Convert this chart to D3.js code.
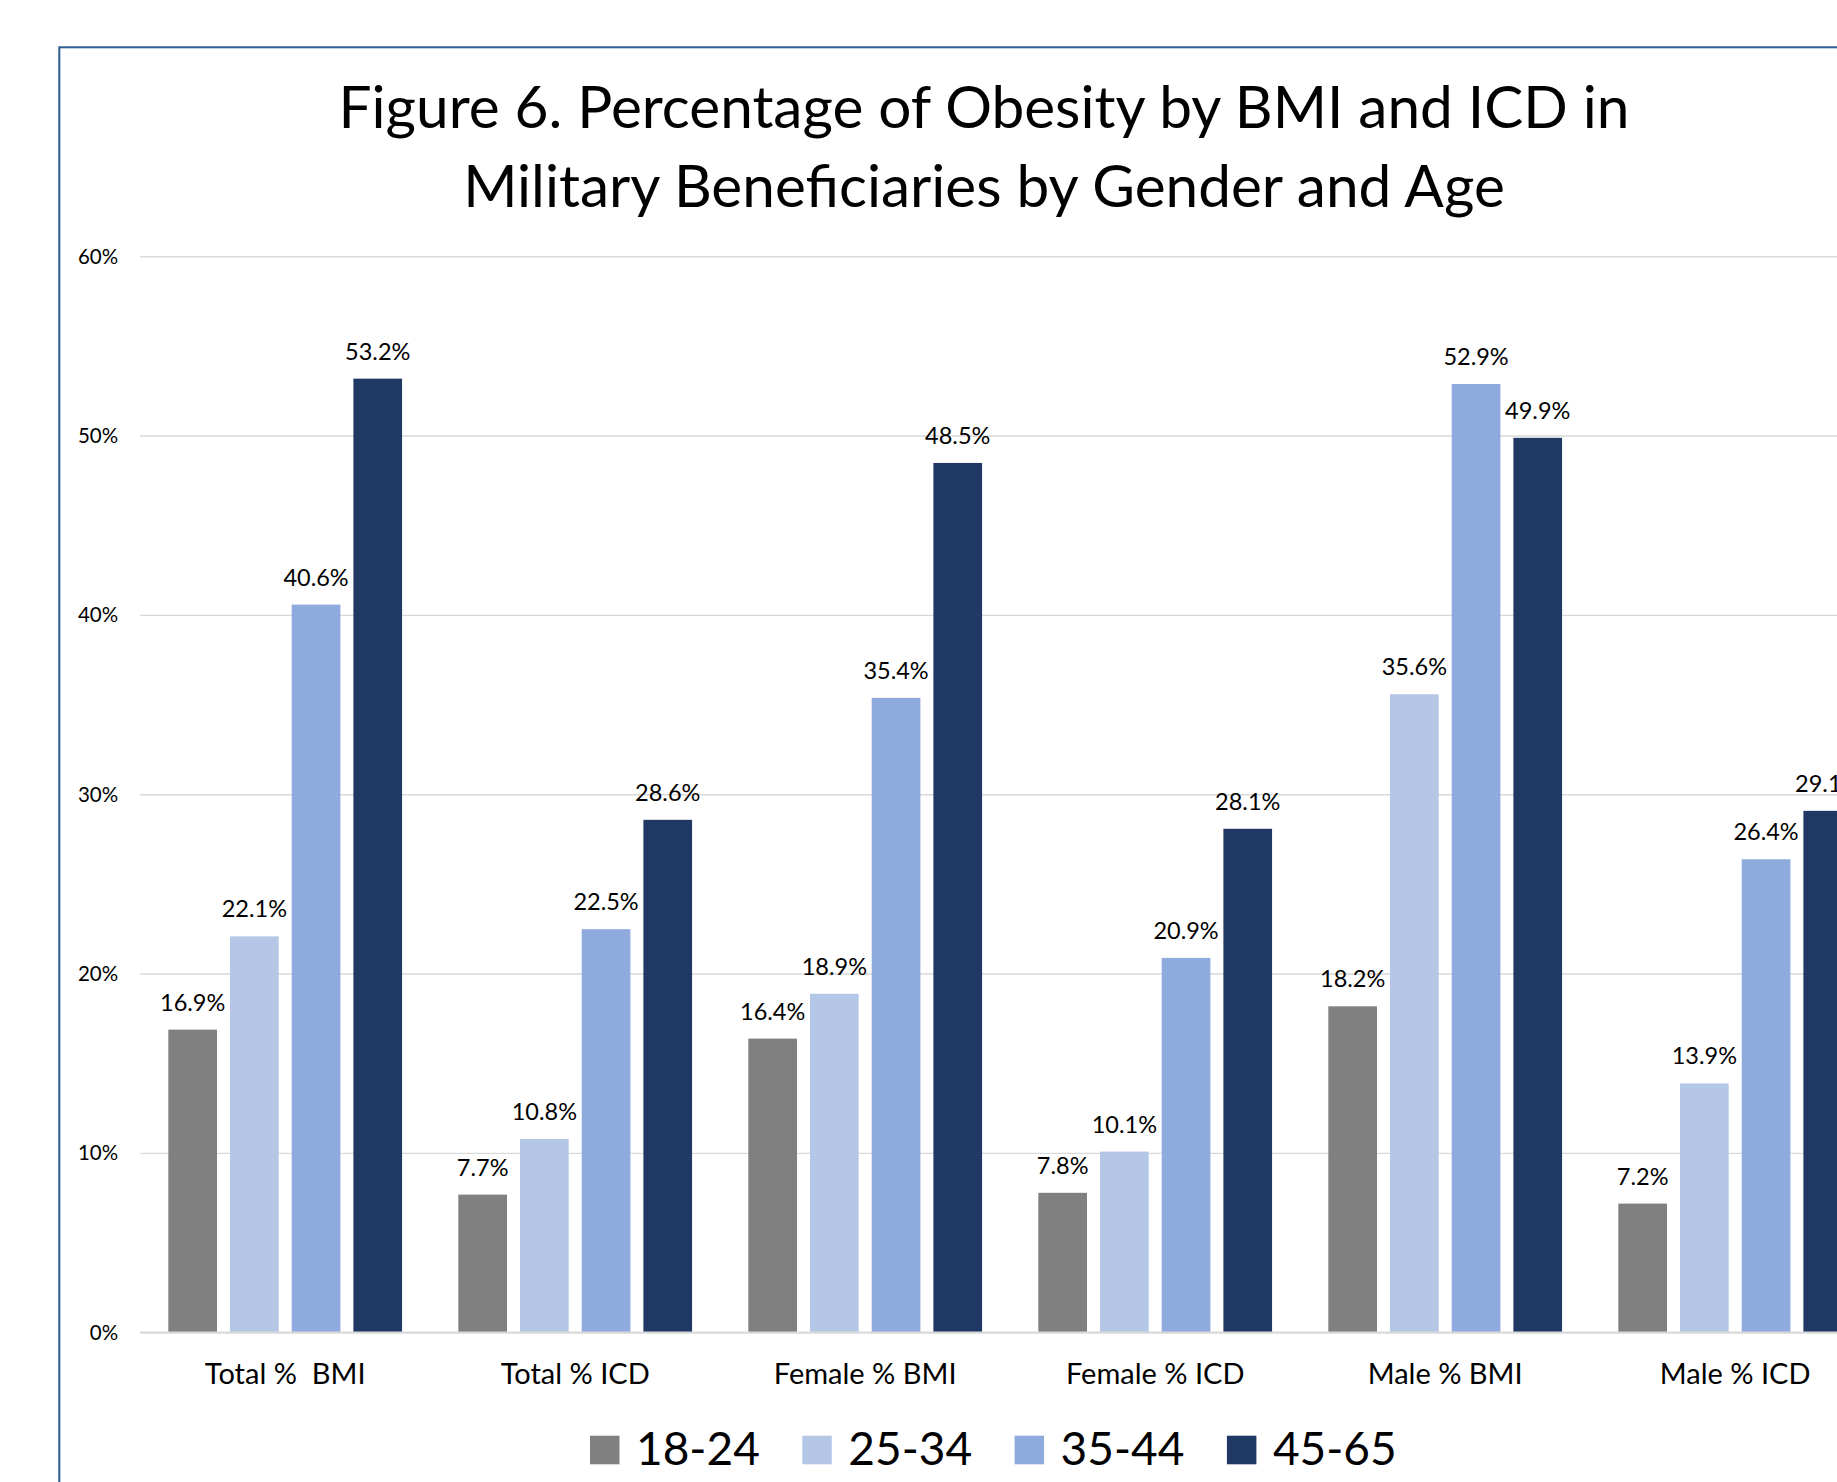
<!DOCTYPE html>
<html>
<head>
<meta charset="utf-8">
<script src="https://cdn.jsdelivr.net/npm/d3@7"></script>
<style>
  body { margin: 0; background: #fff; }
  svg { display: block; font-family: Lato, "Open Sans", sans-serif; }
</style>
</head>
<body>
<svg id="chart" width="1837" height="1482"></svg>
<script>
// Chart data
const titleLines = ["Figure 6. Percentage of Obesity by BMI and ICD in", "Military Beneficiaries by Gender and Age"];
const categories = ["Total %  BMI", "Total % ICD", "Female % BMI", "Female % ICD", "Male % BMI", "Male % ICD"];
const ageGroups = ["18-24", "25-34", "35-44", "45-65"];
const values1824 = [16.9, 7.7, 16.4, 7.8, 18.2, 7.2];
const values2534 = [22.1, 10.8, 18.9, 10.1, 35.6, 13.9];
const values3544 = [40.6, 22.5, 35.4, 20.9, 52.9, 26.4];
const values4565 = [53.2, 28.6, 48.5, 28.1, 49.9, 29.1];
const yTicks = [0, 10, 20, 30, 40, 50, 60];
const colors = ["#808080", "#b4c7e7", "#8faadc", "#203864"];

const seriesValues = [values1824, values2534, values3544, values4565];

const svg = d3.select("#chart");

// Outer chart border (runs off the right and bottom of the picture)
svg.append("rect")
  .attr("x", 59.3)
  .attr("y", 47.3)
  .attr("width", 1900)
  .attr("height", 1600)
  .attr("fill", "none")
  .attr("stroke", "#2f5b91")
  .attr("stroke-width", 2);

// Title
svg.append("g")
  .selectAll("text")
  .data(titleLines)
  .enter()
  .append("text")
  .attr("x", 984)
  .attr("y", (d, i) => 128 + i * 79)
  .attr("text-anchor", "middle")
  .style("font-size", "58.5px")
  .attr("fill", "#000")
  .text(d => d);

// Scales
const plotLeft = 140.2;
const x0 = d3.scaleBand()
  .domain(categories)
  .range([plotLeft, plotLeft + 290 * categories.length])
  .paddingInner(0.194)
  .paddingOuter(0.097);

const x1 = d3.scaleBand()
  .domain(ageGroups)
  .range([0, x0.bandwidth()])
  .paddingInner(0.211);

const y = d3.scaleLinear()
  .domain([0, 60])
  .range([1332.7, 256.7]);

// Gridlines
svg.append("g")
  .selectAll("line")
  .data(yTicks.filter(d => d > 0))
  .enter()
  .append("line")
  .attr("x1", x0.range()[0])
  .attr("x2", x0.range()[1])
  .attr("y1", d => y(d))
  .attr("y2", d => y(d))
  .attr("stroke", "#d9d9d9")
  .attr("stroke-width", 1.4);

// Y axis labels
const yAxis = svg.append("g")
  .attr("transform", `translate(${x0.range()[0]},0)`)
  .call(d3.axisLeft(y).tickValues(yTicks).tickFormat(d => d + "%").tickSize(0).tickPadding(22));
yAxis.select(".domain").remove();
yAxis.selectAll("text")
  .style("font-size", "20.5px")
  .style("font-family", "Lato, sans-serif")
  .attr("fill", "#000");

// Bars
const groups = svg.append("g")
  .selectAll("g")
  .data(categories)
  .enter()
  .append("g")
  .attr("transform", d => `translate(${x0(d)},0)`);

groups.selectAll("rect")
  .data((d, ci) => ageGroups.map((a, si) => ({ age: a, si: si, value: seriesValues[si][ci] })))
  .enter()
  .append("rect")
  .attr("x", d => x1(d.age))
  .attr("y", d => y(d.value))
  .attr("width", x1.bandwidth())
  .attr("height", d => y(0) - y(d.value))
  .attr("fill", d => colors[d.si]);

// Data labels
groups.selectAll("text")
  .data((d, ci) => ageGroups.map((a, si) => ({ age: a, si: si, value: seriesValues[si][ci] })))
  .enter()
  .append("text")
  .attr("x", d => x1(d.age) + x1.bandwidth() / 2)
  .attr("y", d => y(d.value) - 19)
  .attr("text-anchor", "middle")
  .style("font-size", "23.5px")
  .attr("fill", "#000")
  .text(d => d.value.toFixed(1) + "%");

// Zero axis line
svg.append("line")
  .attr("x1", x0.range()[0])
  .attr("x2", x0.range()[1])
  .attr("y1", y(0))
  .attr("y2", y(0))
  .attr("stroke", "#d9d9d9")
  .attr("stroke-width", 2.2);

// Category labels
svg.append("g")
  .selectAll("text")
  .data(categories)
  .enter()
  .append("text")
  .attr("x", d => x0(d) + x0.bandwidth() / 2)
  .attr("y", 1384)
  .attr("text-anchor", "middle")
  .style("white-space", "pre")
  .style("font-size", "29px")
  .attr("fill", "#000")
  .text(d => d);

// Legend
const legendX = d3.scalePoint()
  .domain(ageGroups)
  .range([590, 590 + 212.3 * 3]);

const legend = svg.append("g")
  .selectAll("g")
  .data(ageGroups)
  .enter()
  .append("g")
  .attr("transform", d => `translate(${legendX(d)},1435.7)`);

legend.append("rect")
  .attr("width", 29.5)
  .attr("height", 28.6)
  .attr("fill", (d, i) => colors[i]);

legend.append("text")
  .attr("x", 46)
  .attr("y", 29.3)
  .style("font-size", "46px")
  .attr("fill", "#000")
  .text(d => d);
</script>
</body>
</html>
